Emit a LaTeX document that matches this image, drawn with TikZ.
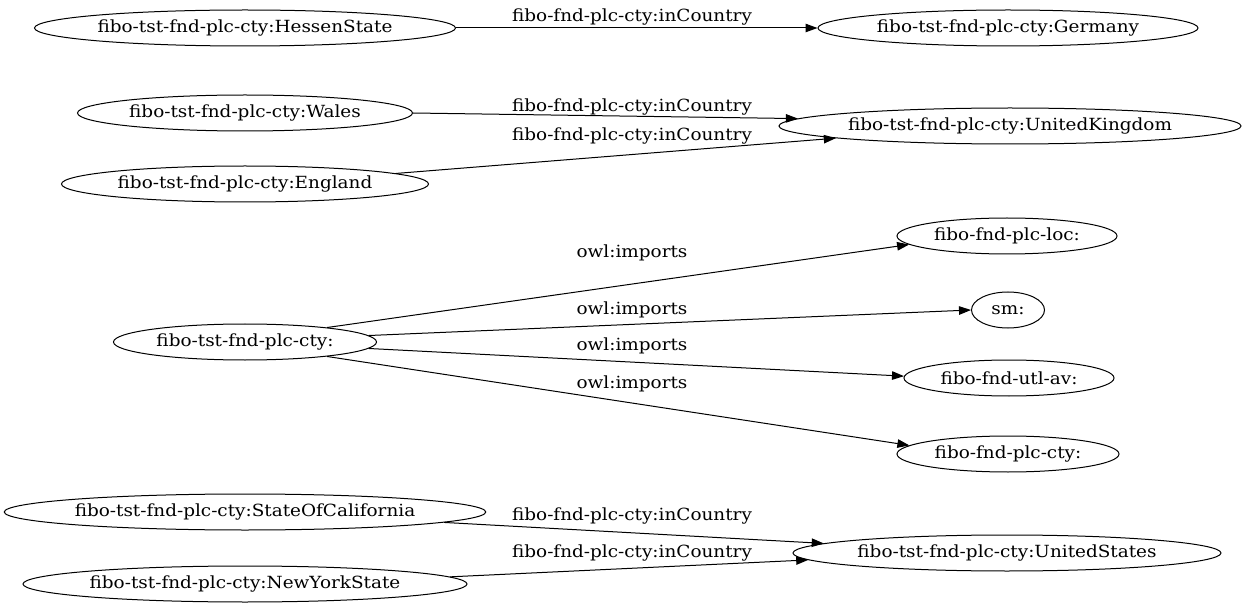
\documentclass[tikz,border=0pt]{standalone}
\usepackage{fontspec}
\setmainfont{DejaVu Serif}[FakeStretch=1.1]
\usetikzlibrary{shapes.geometric,arrows.meta}
\begin{document}
\begin{tikzpicture}[x=1bp,y=-1bp,
  nd/.style={ellipse,draw,line width=1bp,inner sep=0pt,minimum height=36bp,font=\fontsize{16.8}{19}\selectfont},
  lbl/.style={inner sep=0pt,font=\fontsize{16.8}{19}\selectfont},
  edge/.style={line width=1bp,-{Triangle[length=12bp,width=8.5bp]}}]
\useasboundingbox (0,0) rectangle (1243,615);
\node[nd,minimum width=421bp] (hessen) at (245,28) {fibo-tst-fnd-plc-cty:HessenState};
\node[nd,minimum width=380bp] (germany) at (1008,28) {fibo-tst-fnd-plc-cty:Germany};
\node[nd,minimum width=335bp] (wales) at (245,113) {fibo-tst-fnd-plc-cty:Wales};
\node[nd,minimum width=462bp] (uk) at (1010,126) {fibo-tst-fnd-plc-cty:UnitedKingdom};
\node[nd,minimum width=367bp] (england) at (245,184) {fibo-tst-fnd-plc-cty:England};
\node[nd,minimum width=220bp] (loc) at (1007,236) {fibo-fnd-plc-loc:};
\node[nd,minimum width=73bp] (sm) at (1008,310) {sm:};
\node[nd,minimum width=263bp] (cty) at (245,342) {fibo-tst-fnd-plc-cty:};
\node[nd,minimum width=210bp] (av) at (1009,378) {fibo-fnd-utl-av:};
\node[nd,minimum width=222bp] (plccty) at (1008,454) {fibo-fnd-plc-cty:};
\node[nd,minimum width=480bp] (ca) at (245,512) {fibo-tst-fnd-plc-cty:StateOfCalifornia};
\node[nd,minimum width=428bp] (us) at (1007,553) {fibo-tst-fnd-plc-cty:UnitedStates};
\node[nd,minimum width=444bp] (ny) at (245,584) {fibo-tst-fnd-plc-cty:NewYorkState};

\draw[edge] (hessen.0) -- (germany.180);
\draw[edge] (wales.0) -- (uk.178);
\draw[edge] (england.4) -- (uk.184);
\draw[edge] (cty.10) -- (loc.185);
\draw[edge] (cty.3) -- (sm.180);
\draw[edge] (cty.-3) -- (av.179);
\draw[edge] (cty.-10) -- (plccty.175);
\draw[edge] (ca.-3) -- (us.177);
\draw[edge] (ny.2) -- (us.182);

\node[lbl] (l1) at (632,17) {fibo-fnd-plc-cty:inCountry};
\node[lbl] (l2) at (632,107) {fibo-fnd-plc-cty:inCountry};
\node[lbl] (l3) at (632,136) {fibo-fnd-plc-cty:inCountry};
\node[lbl] (l4) at (632,253) {owl:imports};
\node[lbl] (l5) at (632,310) {owl:imports};
\node[lbl] (l6) at (632,346) {owl:imports};
\node[lbl] (l7) at (632,384) {owl:imports};
\node[lbl] (l8) at (632,516) {fibo-fnd-plc-cty:inCountry};
\node[lbl] (l9) at (632,553) {fibo-fnd-plc-cty:inCountry};
\end{tikzpicture}
\end{document}
